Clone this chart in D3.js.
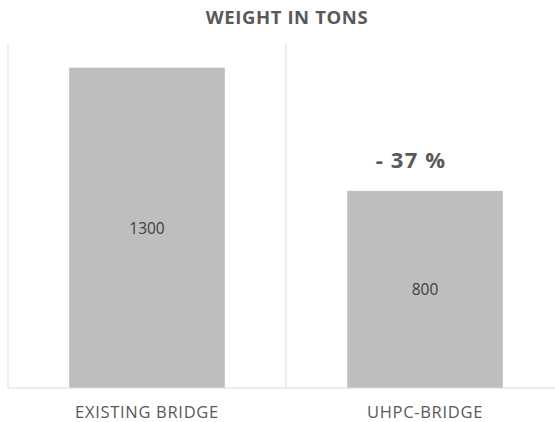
<!DOCTYPE html>
<html>
<head>
<meta charset="utf-8">
<script src="https://cdn.jsdelivr.net/npm/d3@7"></script>
<style>
  body { margin: 0; background: #fff; }
  svg text { font-family: "Open Sans", "DejaVu Sans", sans-serif; }
</style>
</head>
<body>
<svg id="chart" width="555" height="422"></svg>
<script>
const categories = ['EXISTING BRIDGE', 'UHPC-BRIDGE'];
const weights = [1300, 800];
const annotation = '- 37 %';
const title = 'WEIGHT IN TONS';

const W = 555, H = 422;
const svg = d3.select('#chart');
const plot = { left: 8, right: 564, top: 43, bottom: 388 };

const x = d3.scaleBand().domain(categories).range([plot.left, plot.right]).paddingInner(0).paddingOuter(0);
const y = d3.scaleLinear().domain([0, 1400]).range([plot.bottom, plot.top]);

// category separators
const seps = [plot.left, x(categories[1])];
svg.selectAll('line.sep').data(seps).enter().append('line')
  .attr('x1', d => d).attr('x2', d => d)
  .attr('y1', plot.top).attr('y2', plot.bottom)
  .attr('stroke', '#e3e3e3').attr('stroke-width', 1.2);

const bw = x.bandwidth() * 0.56;
svg.selectAll('rect.bar').data(weights).enter().append('rect')
  .attr('x', (d, i) => x(categories[i]) + (x.bandwidth() - bw) / 2)
  .attr('y', d => y(d))
  .attr('width', bw)
  .attr('height', d => y(0) - y(d))
  .attr('fill', '#bebebe');

// baseline
svg.append('line')
  .attr('x1', plot.left).attr('x2', W)
  .attr('y1', plot.bottom).attr('y2', plot.bottom)
  .attr('stroke', '#d9d9d9').attr('stroke-width', 1.2);

// value labels
svg.selectAll('text.val').data(weights).enter().append('text')
  .attr('x', (d, i) => x(categories[i]) + x.bandwidth() / 2)
  .attr('y', d => (y(d) + y(0)) / 2)
  .attr('text-anchor', 'middle').attr('dominant-baseline', 'central')
  .attr('font-size', '15.5px').attr('fill', '#404040')
  .text(d => d);

// category labels
svg.selectAll('text.cat').data(categories).enter().append('text')
  .attr('x', d => x(d) + x.bandwidth() / 2)
  .attr('y', 411)
  .attr('text-anchor', 'middle').attr('dominant-baseline', 'central')
  .attr('font-size', '16.5px').attr('fill', '#595959').attr('letter-spacing', '0.7px')
  .text(d => d);

// title
svg.append('text')
  .attr('x', 287).attr('y', 16)
  .attr('text-anchor', 'middle').attr('dominant-baseline', 'central')
  .attr('font-size', '18.5px').attr('font-weight', 700).attr('fill', '#595959')
  .attr('letter-spacing', '0.6px')
  .text(title);

// annotation
svg.append('text')
  .attr('x', x(categories[1]) + x.bandwidth() / 2 - 14).attr('y', y(weights[1]) - 32)
  .attr('text-anchor', 'middle').attr('dominant-baseline', 'central')
  .attr('font-size', '22px').attr('font-weight', 700).attr('fill', '#595959')
  .attr('letter-spacing', '1.2px')
  .text(annotation);
</script>
</body>
</html>
